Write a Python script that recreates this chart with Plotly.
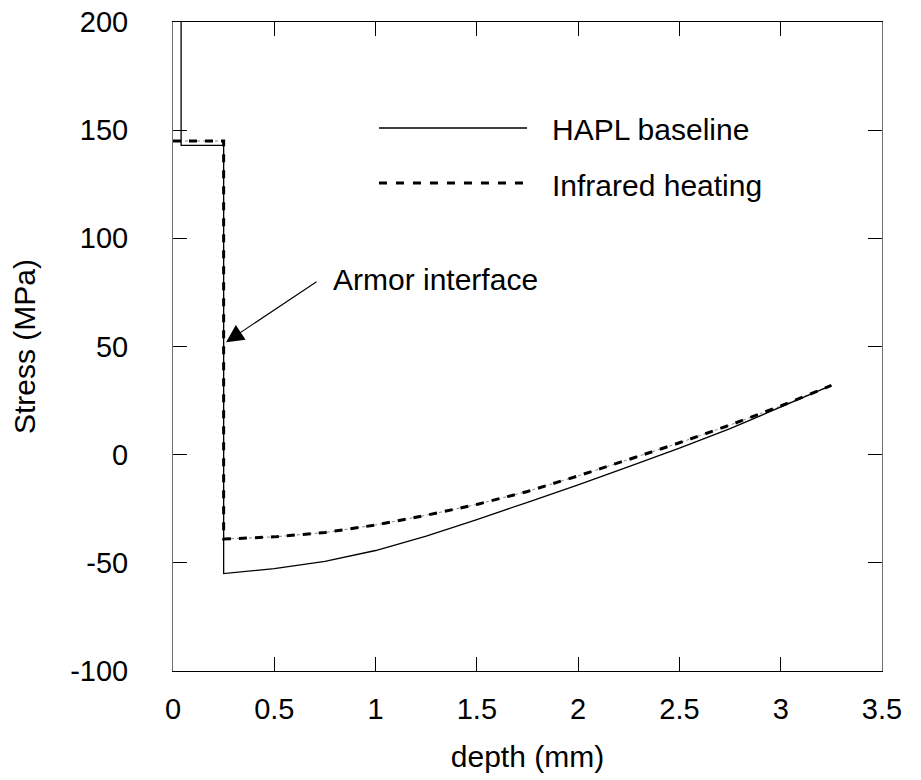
import plotly.graph_objects as go

# HAPL baseline (solid)
base_x = [0.0, 0.04, 0.04, 0.25, 0.25, 0.5, 0.75, 1.0, 1.25, 1.5, 1.75, 2.0, 2.25, 2.5, 2.75, 3.0, 3.25]
base_y = [260, 260, 143, 143, -55, -52.7, -49.3, -44.3, -37.6, -30, -22, -14, -5.5, 3, 12, 22, 32]

# Infrared heating (dashed)
ir_x = [0.0, 0.25, 0.25, 0.5, 0.75, 1.0, 1.25, 1.5, 1.75, 2.0, 2.25, 2.5, 2.75, 3.0, 3.25]
ir_y = [145, 145, -39, -38, -36, -32.5, -28, -23, -17, -9.8, -2.2, 5.5, 13.7, 22.5, 32]

x_ticks = [0, 0.5, 1, 1.5, 2, 2.5, 3, 3.5]
x_labels = ["0", "0.5", "1", "1.5", "2", "2.5", "3", "3.5"]
y_ticks = [-100, -50, 0, 50, 100, 150, 200]
y_labels = ["-100", "-50", "0", "50", "100", "150", "200"]

FONT = "Arial, Liberation Sans, sans-serif"
FS = 29

fig = go.Figure()
fig.add_trace(go.Scatter(x=ir_x, y=ir_y, mode="lines", showlegend=False,
                         line=dict(color="#888888", width=1, dash="dot")))
fig.add_trace(go.Scatter(x=base_x, y=base_y, mode="lines", name="HAPL baseline",
                         showlegend=False, line=dict(color="black", width=1.3)))
fig.add_trace(go.Scatter(x=ir_x, y=ir_y, mode="lines", name="Infrared heating",
                         showlegend=False, line=dict(color="black", width=3, dash="8px,8px")))

# manual legend
fig.add_shape(type="line", xref="paper", yref="paper", x0=0.2905, x1=0.4993,
              y0=(671 - 128) / 649, y1=(671 - 128) / 649, line=dict(color="black", width=1.3))
fig.add_shape(type="line", xref="paper", yref="paper", x0=0.2905, x1=0.4993,
              y0=(671 - 183) / 649, y1=(671 - 183) / 649, line=dict(color="black", width=3, dash="8px,9px"))
fig.add_annotation(xref="paper", yref="paper", x=0.532, y=(671 - 129) / 649, text="HAPL baseline",
                   showarrow=False, xanchor="left", yanchor="middle", font=dict(size=30, color="black", family=FONT))
fig.add_annotation(xref="paper", yref="paper", x=0.532, y=(671 - 185) / 649, text="Infrared heating",
                   showarrow=False, xanchor="left", yanchor="middle", font=dict(size=30, color="black", family=FONT))

# arrow
fig.add_annotation(x=0.262, y=52, ax=0.716, ay=80.4, axref="x", ayref="y", xref="x", yref="y",
                   text="", showarrow=True, arrowhead=2, arrowsize=3.2, arrowwidth=1.1, arrowcolor="black")
fig.add_annotation(x=0.78, y=81, xref="x", yref="y", text="Armor interface", showarrow=False,
                   xanchor="left", yanchor="middle", font=dict(size=30, color="black", family=FONT))

fig.update_layout(
    width=921, height=780,
    margin=dict(l=173, r=39, t=22, b=109),
    plot_bgcolor="white", paper_bgcolor="white",
    font=dict(family=FONT, size=FS, color="black"),
    showlegend=False,
)
fig.update_xaxes(range=[0, 3.5], tickvals=x_ticks, ticktext=x_labels, ticks="inside", ticklen=14,
                 tickcolor="black", showline=True, linecolor="black", linewidth=1, mirror="ticks",
                 showgrid=False, zeroline=False, automargin=False, ticklabeloverflow="allow",
                 tickfont=dict(size=29),
                 title=dict(text="depth (mm)", standoff=22, font=dict(size=30)),
                 ticklabelstandoff=12)
fig.update_yaxes(range=[-100, 200], tickvals=y_ticks, ticktext=y_labels, ticks="inside", ticklen=14,
                 tickcolor="black", showline=True, linecolor="#707070", linewidth=1, mirror="ticks",
                 showgrid=False, zeroline=False, automargin=False, ticklabeloverflow="allow",
                 tickfont=dict(size=29),
                 title=dict(text="Stress (MPa)", standoff=25, font=dict(size=30)),
                 ticklabelstandoff=38)

fig.write_html("out.html", post_script="document.body.style.margin='0';",
               config={"displayModeBar": False})
